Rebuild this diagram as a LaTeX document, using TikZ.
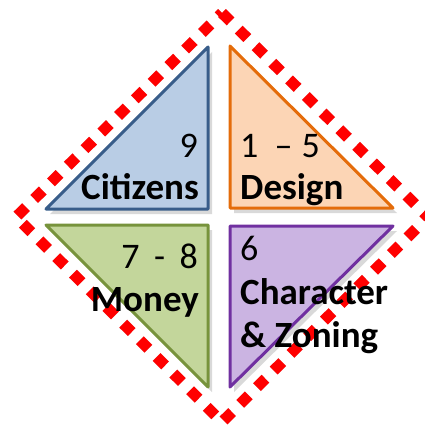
\documentclass[tikz,border=0pt]{standalone}
\usepackage{fontspec}
\setmainfont{Carlito}
\usetikzlibrary{positioning}

\definecolor{citfill}{HTML}{B9CDE5}
\definecolor{citline}{HTML}{385D8A}
\definecolor{desfill}{HTML}{FCD5B5}
\definecolor{desline}{HTML}{E46C0A}
\definecolor{monfill}{HTML}{C3D69B}
\definecolor{monline}{HTML}{77933C}
\definecolor{chafill}{HTML}{CBB4E2}
\definecolor{chaline}{HTML}{7030A0}

\begin{document}
\begin{tikzpicture}[x=1pt, y=-1pt,
  tri/.style={line width=3pt, line join=round},
  shade/.style={black, opacity=0.15},
  num/.style={font=\fontsize{36}{43}\selectfont, inner sep=0pt},
  lbl/.style={font=\fontsize{37}{43}\selectfont\bfseries, inner sep=0pt},
  frame/.style={red, line width=11pt, dash pattern=on 12pt off 11.6pt}]

  \useasboundingbox (0,0) rectangle (425,436);

  % corners of the dashed frame
  \coordinate (ftop) at (222,13);
  \coordinate (fright) at (428,217);
  \coordinate (fbottom) at (222,422);
  \coordinate (fleft) at (16,217);

  % shadows
  \begin{scope}[shift={(4,5)}]
    \draw[shade, line width=11pt, dash pattern=on 12pt off 11.6pt]
    (ftop) -- (fright) -- (fbottom) -- (fleft) -- cycle;
    \fill[shade] (208,47) -- (208,209) -- (46,209) -- cycle;
    \fill[shade] (230,46) -- (393,208) -- (230,208) -- cycle;
    \fill[shade] (46,225) -- (208,225) -- (208,387) -- cycle;
    \fill[shade] (230,226) -- (393,226) -- (230,387) -- cycle;
  \end{scope}

  % dashed frame
  \draw[frame] (ftop) -- (fright) -- (fbottom) -- (fleft) -- cycle;

  % triangles
  \draw[tri, citline, fill=citfill] (208,47) -- (208,209) -- (46,209) -- cycle;
  \draw[tri, desline, fill=desfill] (230,46) -- (393,208) -- (230,208) -- cycle;
  \draw[tri, monline, fill=monfill] (46,225) -- (208,225) -- (208,387) -- cycle;
  \draw[tri, chaline, fill=chafill] (230,226) -- (393,226) -- (230,387) -- cycle;

  % labels
  \node[num, anchor=base east] (citnum) at (198,157) {9};
  \node[lbl, anchor=base east] (citizens) at (199,199) {Citizens};
  \node[num, anchor=base west] (desnum) at (240,157) {1\hspace{0.45em}–\hspace{0.25em}5};
  \node[lbl, anchor=base west] (design) at (240,199) {Design};
  \node[num, anchor=base east] (monnum) at (198,268) {7\hspace{0.4em}-\hspace{0.4em}8};
  \node[lbl, anchor=base east] (money) at (199,311) {Money};
  \node[num, anchor=base west] (chanum) at (240,260) {6};
  \node[lbl, anchor=base west] (character) at (240,304) {Character};
  \node[lbl, anchor=base west] (zoning) at (240,347) {\& Zoning};
\end{tikzpicture}
\end{document}
